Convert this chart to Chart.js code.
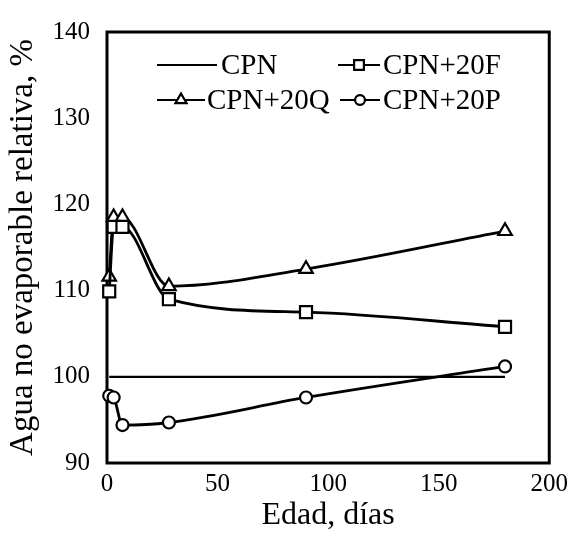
<!DOCTYPE html>
<html>
<head>
<meta charset="utf-8">
<script src="https://cdn.jsdelivr.net/npm/chart.js@4/dist/chart.umd.min.js"></script>
<style>
html,body{margin:0;padding:0;background:#fff;}
#wrap{position:relative;width:574px;height:536px;}
</style>
</head>
<body>
<div id="wrap"><canvas id="c" width="574" height="536"></canvas></div>
<script>
// ---- data ----
const daysCPN = [1, 180];
const valsCPN = [100, 100];
const days = [1, 3, 7, 28, 90, 180];
const valsF = [109.9, 117.4, 117.4, 109.0, 107.5, 105.8];
const valsQ = [111.6, 118.5, 118.5, 110.5, 112.5, 116.9];
const valsP = [97.8, 97.6, 94.4, 94.7, 97.6, 101.2];
const xTicks = [0, 50, 100, 150, 200];
const yTicks = [90, 100, 110, 120, 130, 140];
const seriesNames = ['CPN', 'CPN+20F', 'CPN+20Q', 'CPN+20P'];

const FONT = "'Liberation Serif', 'Times New Roman', serif";

function pts(xs, ys){ return xs.map((x,i)=>({x:x, y:ys[i]})); }

const common = {
  borderColor:'#000', borderWidth:2.8, backgroundColor:'#fff',
  pointBorderColor:'#000', pointBackgroundColor:'#fff', pointBorderWidth:2.2,
  cubicInterpolationMode:'monotone', clip:false, fill:false
};

const datasets = [
  Object.assign({}, common, {label:seriesNames[0], data:pts(daysCPN, valsCPN), pointRadius:0, cubicInterpolationMode:'default', tension:0, borderWidth:2.2}),
  Object.assign({}, common, {label:seriesNames[1], data:pts(days, valsF), pointStyle:'rect', pointRadius:8.5}),
  Object.assign({}, common, {label:seriesNames[2], data:pts(days, valsQ), pointStyle:'triangle', pointRadius:7.8}),
  Object.assign({}, common, {label:seriesNames[3], data:pts(days, valsP), pointStyle:'circle', pointRadius:6})
];

const framePlugin = {
  id:'frame',
  beforeDatasetsDraw(chart){
    const {ctx, chartArea:a} = chart;
    ctx.save();
    ctx.strokeStyle = '#000';
    ctx.lineWidth = 3;
    ctx.strokeRect(a.left, a.top, a.right - a.left, a.bottom - a.top);
    ctx.restore();
  }
};

const legendPlugin = {
  id:'customLegend',
  afterDraw(chart){
    const ctx = chart.ctx;
    const items = [
      {ds:0, x1:157, x2:217, tx:221, y:65},
      {ds:1, x1:338, x2:380, tx:383, y:65},
      {ds:2, x1:157, x2:205, tx:207, y:100},
      {ds:3, x1:340, x2:380, tx:383, y:100}
    ];
    ctx.save();
    items.forEach(it=>{
      const d = chart.data.datasets[it.ds];
      ctx.strokeStyle = '#000';
      ctx.lineWidth = 2.2;
      ctx.beginPath();
      ctx.moveTo(it.x1, it.y); ctx.lineTo(it.x2, it.y);
      ctx.stroke();
      if (d.pointRadius > 0) {
        Chart.helpers.drawPoint(ctx, {
          pointStyle:d.pointStyle, radius:d.pointRadius*0.8, rotation:0, borderWidth:2
        }, (it.x1+it.x2)/2, it.y);
        ctx.fillStyle = '#fff'; ctx.strokeStyle = '#000'; ctx.lineWidth = 2;
        ctx.fill(); ctx.stroke();
      }
      ctx.fillStyle = '#000';
      ctx.font = "29px " + FONT;
      ctx.textBaseline = 'middle';
      ctx.textAlign = 'left';
      ctx.fillText(d.label, it.tx, it.y + 1);
    });
    ctx.restore();
  }
};

new Chart(document.getElementById('c'), {
  type:'line',
  data:{datasets:datasets},
  options:{
    responsive:false,
    animation:false,
    devicePixelRatio:1,
    layout:{padding:{top:25, right:22, left:0, bottom:0}},
    plugins:{legend:{display:false}, tooltip:{enabled:false}},
    scales:{
      x:{
        type:'linear', min:0, max:200,
        afterBuildTicks(s){ s.ticks = xTicks.map(v=>({value:v})); },
        afterFit(s){ s.height = 73; },
        grid:{display:false, drawTicks:false},
        border:{display:false},
        ticks:{color:'#000', padding:6, font:{family:FONT, size:25}},
        title:{display:true, text:'Edad, días', color:'#000', font:{family:FONT, size:32, lineHeight:1}, padding:{top:0,bottom:4}}
      },
      y:{
        type:'linear', min:90, max:140,
        afterBuildTicks(s){ s.ticks = yTicks.map(v=>({value:v})); },
        afterFit(s){ s.width = 107; },
        grid:{display:false, drawTicks:false},
        border:{display:false},
        ticks:{color:'#000', padding:17, font:{family:FONT, size:25}},
        title:{display:true, text:'Agua no evaporable relativa, %', color:'#000', font:{family:FONT, size:33, lineHeight:1}, padding:{top:7,bottom:0}}
      }
    }
  },
  plugins:[framePlugin, legendPlugin]
});
</script>
</body>
</html>
